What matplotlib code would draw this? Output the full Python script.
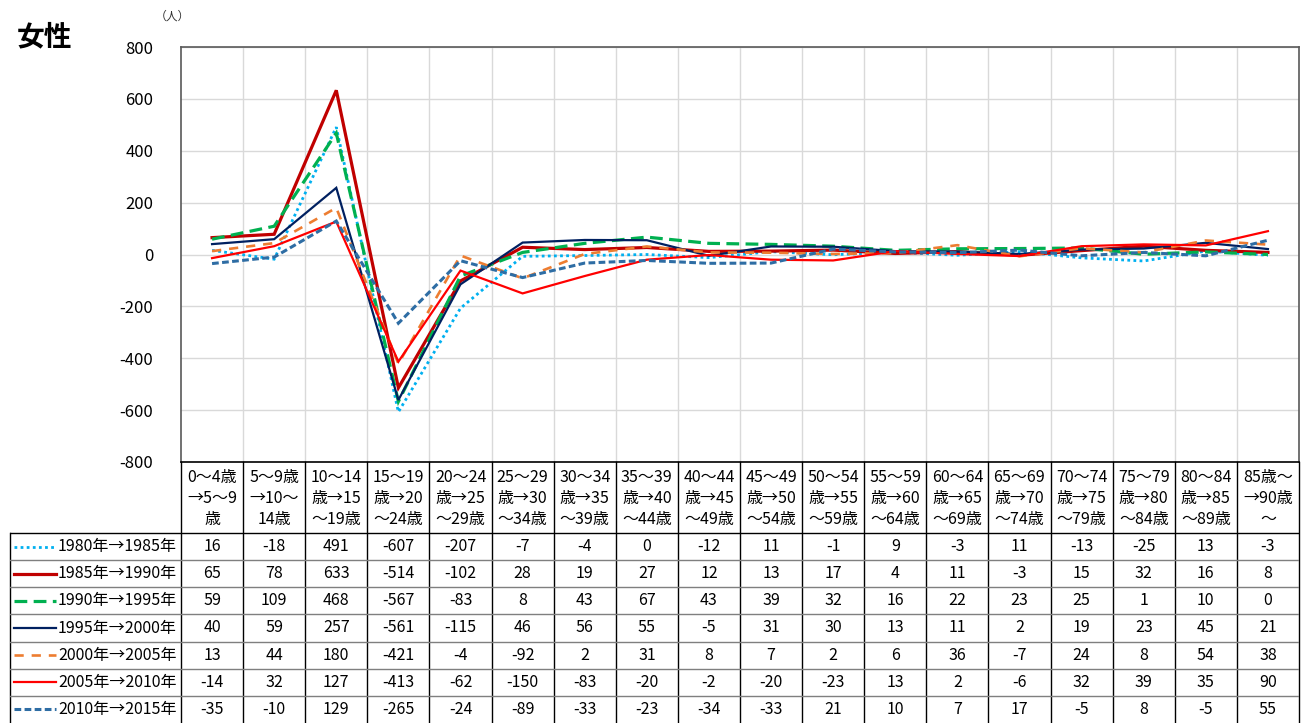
import numpy as np
import matplotlib
matplotlib.use("Agg")
import matplotlib.pyplot as plt

plt.rcParams['font.family'] = ['Noto Sans CJK JP', 'DejaVu Sans']
plt.rcParams['axes.unicode_minus'] = False

# ---- data ----
age_labels = [
    "0〜4歳\n→5〜9\n歳", "5〜9歳\n→10〜\n14歳", "10〜14\n歳→15\n〜19歳",
    "15〜19\n歳→20\n〜24歳", "20〜24\n歳→25\n〜29歳", "25〜29\n歳→30\n〜34歳",
    "30〜34\n歳→35\n〜39歳", "35〜39\n歳→40\n〜44歳", "40〜44\n歳→45\n〜49歳",
    "45〜49\n歳→50\n〜54歳", "50〜54\n歳→55\n〜59歳", "55〜59\n歳→60\n〜64歳",
    "60〜64\n歳→65\n〜69歳", "65〜69\n歳→70\n〜74歳", "70〜74\n歳→75\n〜79歳",
    "75〜79\n歳→80\n〜84歳", "80〜84\n歳→85\n〜89歳", "85歳〜\n→90歳\n〜",
]

series_names = ["1980年→1985年", "1985年→1990年", "1990年→1995年", "1995年→2000年",
                "2000年→2005年", "2005年→2010年", "2010年→2015年"]

v1980 = [16, -18, 491, -607, -207, -7, -4, 0, -12, 11, -1, 9, -3, 11, -13, -25, 13, -3]
v1985 = [65, 78, 633, -514, -102, 28, 19, 27, 12, 13, 17, 4, 11, -3, 15, 32, 16, 8]
v1990 = [59, 109, 468, -567, -83, 8, 43, 67, 43, 39, 32, 16, 22, 23, 25, 1, 10, 0]
v1995 = [40, 59, 257, -561, -115, 46, 56, 55, -5, 31, 30, 13, 11, 2, 19, 23, 45, 21]
v2000 = [13, 44, 180, -421, -4, -92, 2, 31, 8, 7, 2, 6, 36, -7, 24, 8, 54, 38]
v2005 = [-14, 32, 127, -413, -62, -150, -83, -20, -2, -20, -23, 13, 2, -6, 32, 39, 35, 90]
v2010 = [-35, -10, 129, -265, -24, -89, -33, -23, -34, -33, 21, 10, 7, 17, -5, 8, -5, 55]

all_values = [v1980, v1985, v1990, v1995, v2000, v2005, v2010]

# line styles per series
styles = [
    dict(color='#00B0F0', lw=2.0, ls=(0, (1, 1.2))),
    dict(color='#C00000', lw=2.3, ls='-'),
    dict(color='#00B050', lw=2.3, ls=(0, (4, 2))),
    dict(color='#002060', lw=1.6, ls='-'),
    dict(color='#ED7D31', lw=1.9, ls=(0, (3.5, 3))),
    dict(color='#FF0000', lw=1.6, ls='-'),
    dict(color='#2E6DA4', lw=2.2, ls=(0, (2.2, 1.1))),
]

W, H = 1309, 723
fig = plt.figure(figsize=(W / 100, H / 100), dpi=100)

def fx(px):
    return px / W

def fy(py):
    return 1 - py / H

plot_l, plot_r, plot_t, plot_b = 181, 1299, 47, 462
ax = fig.add_axes([fx(plot_l), fy(plot_b), fx(plot_r - plot_l), (plot_b - plot_t) / H])

n = len(age_labels)
x = np.arange(n)
for vals, st in zip(all_values, styles):
    ax.plot(x, vals, color=st['color'], lw=st['lw'], linestyle=st['ls'],
            solid_joinstyle='miter', dash_joinstyle='miter')

ax.set_xlim(-0.5, n - 0.5)
ax.set_ylim(-800, 800)
ax.set_yticks(np.arange(-800, 801, 200))
ax.set_xticks([])
ax.set_xticks(np.arange(0.5, n - 0.5, 1), minor=True)
ax.grid(True, which='major', axis='y', color='#D9D9D9', lw=1)
ax.grid(True, which='minor', axis='x', color='#D9D9D9', lw=1)
ax.tick_params(axis='y', length=0, pad=20, labelsize=12)
ax.tick_params(axis='x', which='both', length=0)
for s in ax.spines.values():
    s.set_color('#595959')
    s.set_linewidth(1.2)
ax.spines['bottom'].set_color('black')
ax.set_axisbelow(True)

fig.text(fx(17), fy(37), "女性", fontsize=20, fontweight='bold', va='center', ha='left')
fig.text(fx(172), fy(16), "（人）", fontsize=8.5, va='center', ha='center', color='#333333')

# ---- data table ----
tab_l = 10
colw = (plot_r - plot_l) / n
left_units = -0.5 - (plot_l - tab_l) / colw
tax = fig.add_axes([fx(tab_l), 0, fx(plot_r - tab_l), (H - plot_b) / H])
tax.set_xlim(left_units, n - 0.5)
tax.set_ylim(H, plot_b)
tax.axis('off')

head_b = 533
row_h = (H - head_b) / 7.0

# vertical lines
for b in np.arange(-0.5, n, 1):
    tax.plot([b, b], [plot_b, H], color='black', lw=1.0, clip_on=False)
tax.plot([left_units, left_units], [head_b, H], color='black', lw=1.0, clip_on=False)
# horizontal lines
tax.plot([left_units, n - 0.5], [head_b, head_b], color='black', lw=1.0)
for k in range(1, 7):
    yk = head_b + k * row_h
    tax.plot([left_units, n - 0.5], [yk, yk], color='#7F7F7F', lw=1.0)

for i, lab in enumerate(age_labels):
    tax.text(i, (plot_b + head_b) / 2 + 1, lab, ha='center', va='center',
             fontsize=11.5, linespacing=1.3)

for r, (name, vals, st) in enumerate(zip(series_names, all_values, styles)):
    yc = head_b + (r + 0.5) * row_h
    x0 = left_units + 4 / colw
    x1 = left_units + 46 / colw
    tax.plot([x0, x1], [yc, yc], color=st['color'], lw=st['lw'], linestyle=st['ls'])
    tax.text(left_units + 48 / colw, yc, name, ha='left', va='center', fontsize=11.5)
    for i, v in enumerate(vals):
        tax.text(i, yc, str(v), ha='center', va='center', fontsize=11.5)

fig.savefig("out.png", dpi=100)
